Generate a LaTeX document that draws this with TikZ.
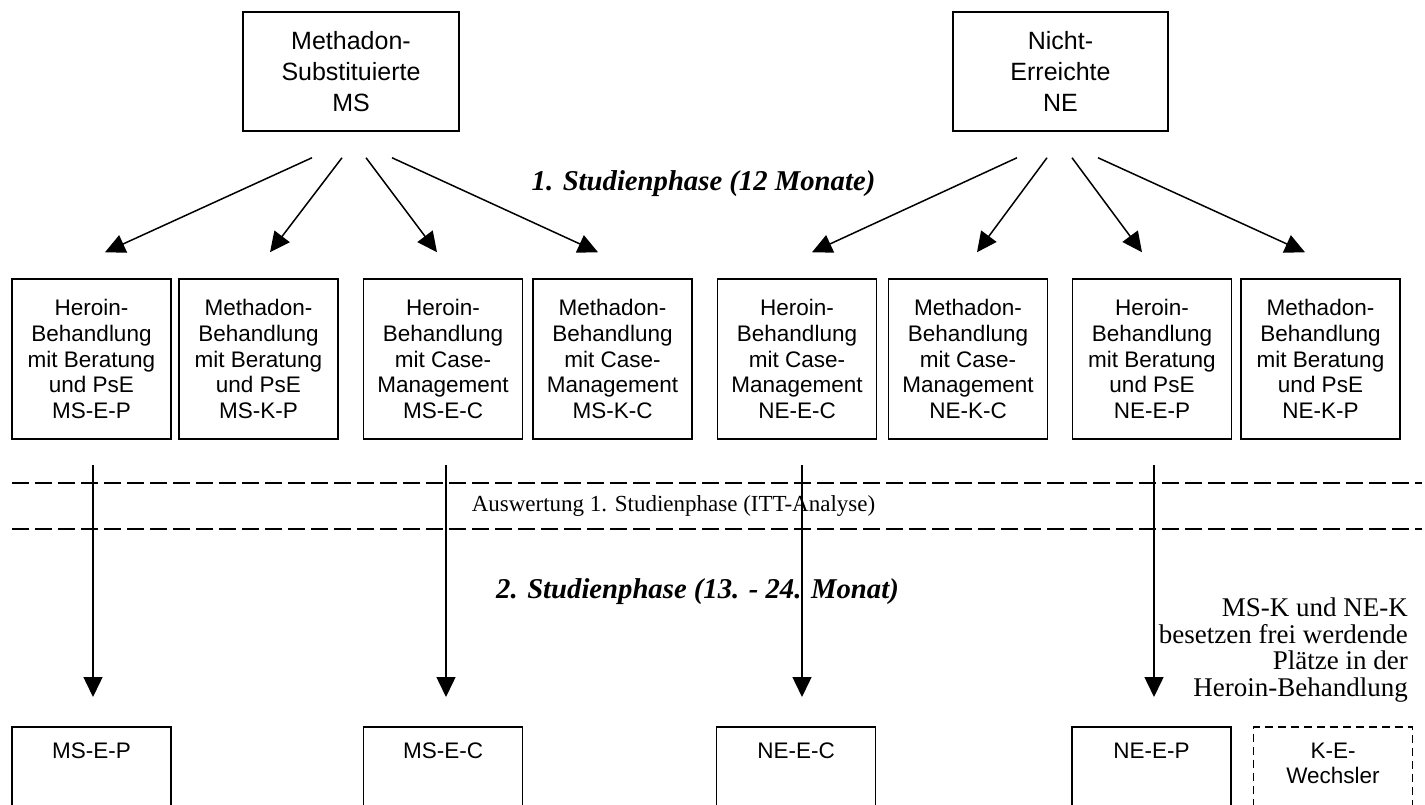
\documentclass[tikz,border=0pt]{standalone}
\usepackage{fontspec}
\setmainfont{Liberation Serif}
\newfontfamily\boxfont{Liberation Sans}
\usetikzlibrary{arrows.meta,positioning}
\tikzset{
    topbox/.style={draw, line width=1.5pt, minimum width=216pt, minimum height=119pt, inner sep=0pt, align=center, font=\boxfont\fontsize{25}{31}\selectfont},
    armbox/.style={draw, line width=1.5pt, minimum width=159pt, minimum height=160pt, inner sep=0pt, align=center, font=\boxfont\fontsize{22.5}{25.8}\selectfont},
    endbox/.style={draw, line width=1.5pt, minimum width=159pt, minimum height=130pt, anchor=north},
    endlabel/.style={anchor=north, yshift=-13pt, align=center, font=\boxfont\fontsize{22.5}{25.8}\selectfont},
    pfeil/.style={line width=1.5pt, -{Triangle[length=20pt,width=19pt]}},
    trenner/.style={line width=1.5pt, dash pattern=on 17pt off 6pt},
    phase/.style={inner sep=0pt, font=\bfseries\itshape\fontsize{28.7}{32}\selectfont},
    notiz/.style={inner sep=0pt, align=right, font=\fontsize{27}{26.5}\selectfont}
}
\begin{document}
\begin{tikzpicture}[x=1pt, y=-1pt]
    \useasboundingbox (0,0) rectangle (1425,805);
    \clip (0,0) rectangle (1425,805);

    \node[topbox] (ms) at (351,71.5) {Methadon-\\Substituierte\\MS};
    \node[topbox, minimum width=215pt] (ne) at (1060.5,71.5) {Nicht-\\Erreichte\\NE};

    \node[armbox] (msep) at (91.5,359) {Heroin-\\Behandlung\\mit Beratung\\und PsE\\MS-E-P};
    \node[armbox] (mskp) at (258.5,359) {Methadon-\\Behandlung\\mit Beratung\\und PsE\\MS-K-P};
    \node[armbox] (msec) at (443,359) {Heroin-\\Behandlung\\mit Case-\\Management\\MS-E-C};
    \node[armbox] (mskc) at (612.5,359) {Methadon-\\Behandlung\\mit Case-\\Management\\MS-K-C};
    \node[armbox] (neec) at (797,359) {Heroin-\\Behandlung\\mit Case-\\Management\\NE-E-C};
    \node[armbox] (nekc) at (968,359) {Methadon-\\Behandlung\\mit Case-\\Management\\NE-K-C};
    \node[armbox] (neep) at (1152,359) {Heroin-\\Behandlung\\mit Beratung\\und PsE\\NE-E-P};
    \node[armbox] (nekp) at (1320.5,359) {Methadon-\\Behandlung\\mit Beratung\\und PsE\\NE-K-P};

    \draw[pfeil] ([xshift=-39pt,yshift=-26pt]ms.south) -- ([xshift=13.5pt,yshift=26pt]msep.north);
    \draw[pfeil] ([xshift=-9pt,yshift=-26pt]ms.south) -- ([xshift=11.5pt,yshift=26pt]mskp.north);
    \draw[pfeil] ([xshift=15pt,yshift=-26pt]ms.south) -- ([xshift=-6pt,yshift=26pt]msec.north);
    \draw[pfeil] ([xshift=41pt,yshift=-26pt]ms.south) -- ([xshift=-14.5pt,yshift=26pt]mskc.north);
    \draw[pfeil] ([xshift=-43.5pt,yshift=-26pt]ne.south) -- ([xshift=15pt,yshift=26pt]neec.north);
    \draw[pfeil] ([xshift=-13.5pt,yshift=-26pt]ne.south) -- ([xshift=9pt,yshift=26pt]nekc.north);
    \draw[pfeil] ([xshift=11.5pt,yshift=-26pt]ne.south) -- ([xshift=-10pt,yshift=26pt]neep.north);
    \draw[pfeil] ([xshift=37.5pt,yshift=-26pt]ne.south) -- ([xshift=-15.5pt,yshift=26pt]nekp.north);

    \node[phase] (phase1) at (703.5,184) {1. Studienphase (12 Monate)};

    \draw[trenner] (12,483) -- (1422,483);
    \draw[trenner] (12,529) -- (1422,529);
    \node[inner sep=0pt, font=\fontsize{23}{26}\selectfont] (itt) at (673.5,506) {Auswertung 1. Studienphase (ITT-Analyse)};

    \node[phase] (phase2) at (697.5,592) {2. Studienphase (13. - 24. Monat)};
    \node[notiz, anchor=east] (wechsel) at (1408,650) {MS-K und NE-K\\besetzen frei werdende\\Plätze in der\\Heroin-Behandlung};

    \node[endbox, label={[endlabel]north:MS-E-P}] (bmsep) at (91.5,726) {};
    \node[endbox, label={[endlabel]north:MS-E-C}] (bmsec) at (443,726) {};
    \node[endbox, label={[endlabel]north:NE-E-C}] (bneec) at (796,726) {};
    \node[endbox, label={[endlabel]north:NE-E-P}] (bneep) at (1151.5,726) {};
    \node[endbox, dash pattern=on 8pt off 5pt, label={[endlabel]north:K-E-\\Wechsler}] (bwechsler) at (1333,726) {};

    \draw[pfeil, shorten <=25pt, shorten >=29pt] ([xshift=1.5pt]msep.south) -- ([xshift=1.5pt]msep.south |- bmsep.north);
    \draw[pfeil, shorten <=25pt, shorten >=29pt] ([xshift=3pt]msec.south) -- ([xshift=3pt]msec.south |- bmsec.north);
    \draw[pfeil, shorten <=25pt, shorten >=29pt] ([xshift=5pt]neec.south) -- ([xshift=5pt]neec.south |- bneec.north);
    \draw[pfeil, shorten <=25pt, shorten >=29pt] ([xshift=2pt]neep.south) -- ([xshift=2pt]neep.south |- bneep.north);
\end{tikzpicture}
\end{document}
